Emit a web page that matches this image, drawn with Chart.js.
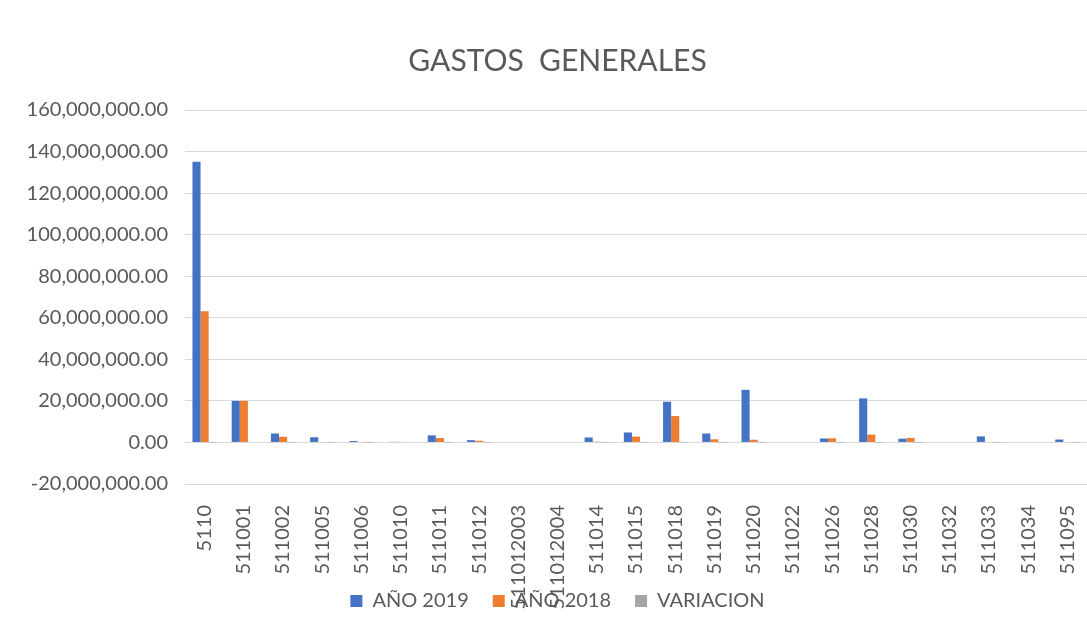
<!DOCTYPE html>
<html>
<head>
<meta charset="utf-8">
<script src="https://cdn.jsdelivr.net/npm/chart.js@4.4.1/dist/chart.umd.min.js"></script>
<style>
  html, body { margin: 0; padding: 0; background: #ffffff; }
  #wrap { width: 1087px; height: 637px; }
</style>
</head>
<body>
<div id="wrap"><canvas id="chartGastos"></canvas></div>
<script>
// Datos
const cuentas = [
  "5110", "511001", "511002", "511005", "511006", "511010", "511011", "511012",
  "511012003", "511012004", "511014", "511015", "511018", "511019", "511020",
  "511022", "511026", "511028", "511030", "511032", "511033", "511034", "511095"
];
const anio2019 = [
  135100000, 20000000, 4300000, 2500000, 700000, 300000, 3400000, 1100000,
  0, 0, 2400000, 4800000, 19600000, 4300000, 25300000,
  0, 1900000, 21200000, 1800000, 0, 2900000, 0, 1400000
];
const anio2018 = [
  63100000, 20000000, 2700000, 0, 300000, 300000, 2100000, 800000,
  0, 0, 400000, 2800000, 12700000, 1500000, 1300000,
  0, 2000000, 3800000, 2200000, 0, 0, 0, 0
];
const variacion = [
  1.14, 0, 0.59, 1, 1.33, 0, 0.62, 0.38,
  0, 0, 5, 0.71, 0.54, 1.87, 18.5,
  0, -0.05, 4.6, -0.18, 0, 1, 0, 1
];
const ejeY = { min: -20000000, max: 160000000, paso: 20000000 };

const gris = "#595959";
const fuente = "Lato, 'Open Sans', sans-serif";

// sin recorte de las etiquetas (en el original se montan sobre la leyenda)
const sinRecorte = (escala) => { escala._computeLabelArea = () => undefined; };

new Chart(document.getElementById("chartGastos"), {
  type: "bar",
  data: {
    labels: cuentas,
    datasets: [
      { label: "AÑO 2019", data: anio2019, backgroundColor: "#4472C4" },
      { label: "AÑO 2018", data: anio2018, backgroundColor: "#ED7D31" },
      { label: "VARIACION", data: variacion, backgroundColor: "#A5A5A5" }
    ]
  },
  options: {
    responsive: true,
    maintainAspectRatio: false,
    animation: false,
    datasets: {
      bar: { categoryPercentage: 0.62, barPercentage: 1 }
    },
    layout: { padding: { left: 28, right: 0, top: 0, bottom: 16 } },
    plugins: {
      tooltip: { enabled: false },
      title: {
        display: true,
        text: "GASTOS  GENERALES",
        color: gris,
        font: { family: fuente, size: 30, weight: "normal" },
        padding: { top: 43, bottom: 31 }
      },
      legend: {
        position: "bottom",
        labels: {
          color: gris,
          font: { family: fuente, size: 20 },
          boxWidth: 12,
          boxHeight: 12,
          padding: 24
        }
      }
    },
    scales: {
      y: {
        min: ejeY.min,
        max: ejeY.max,
        afterFit: (escala) => { escala.width = 157; sinRecorte(escala); },
        ticks: {
          stepSize: ejeY.paso,
          color: gris,
          padding: 17,
          font: { family: fuente, size: 20 },
          callback: (v) => Number(v).toLocaleString("en-US", { minimumFractionDigits: 2, maximumFractionDigits: 2 })
        },
        grid: { color: "#d9d9d9", drawTicks: false },
        border: { display: false }
      },
      x: {
        afterFit: (escala) => {
          escala.height = 83;
          escala.paddingLeft = 0;
          escala.paddingRight = 0; // el área del gráfico llega al borde derecho
          sinRecorte(escala);
        },
        ticks: {
          color: gris,
          minRotation: 90,
          maxRotation: 90,
          autoSkip: false,
          padding: 13,
          font: { family: fuente, size: 20 }
        },
        grid: { display: false },
        border: { display: false }
      }
    }
  }
});
</script>
</body>
</html>
